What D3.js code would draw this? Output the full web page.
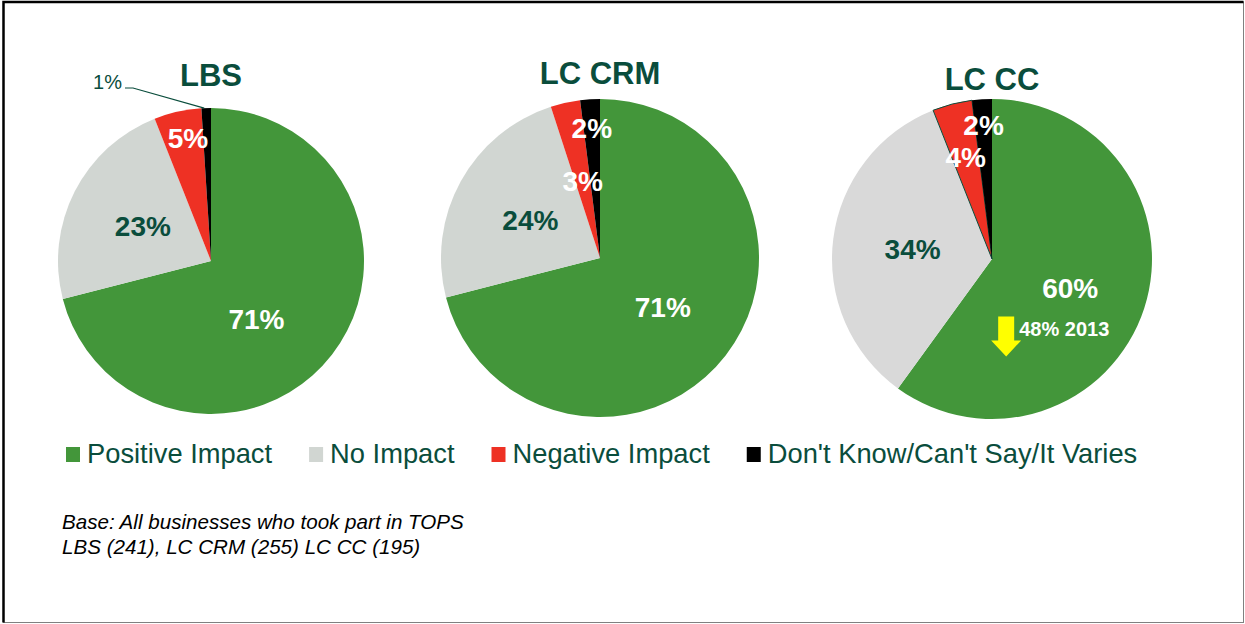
<!DOCTYPE html>
<html>
<head>
<meta charset="utf-8">
<script src="https://cdn.jsdelivr.net/npm/d3@7"></script>
<style>
body { margin: 0; background: #fff; }
svg { display: block; font-family: "Liberation Sans", Arial, sans-serif; }
</style>
</head>
<body>
<svg width="1245" height="624"></svg>
<script>
var categories = ["Positive Impact", "No Impact", "Negative Impact", "Don't Know/Can't Say/It Varies"];
var titles = ["LBS", "LC CRM", "LC CC"];
var lbsValues = [71, 23, 5, 1];
var lcCrmValues = [71, 24, 3, 2];
var lcCcValues = [60, 34, 4, 2];
var note2013 = "48% 2013";
var baseNote = ["Base: All businesses who took part in TOPS", "LBS (241), LC CRM (255) LC CC (195)"];

var svg = d3.select("svg");
var width = +svg.attr("width");
var height = +svg.attr("height");
var darkGreen = "#0a4d3c";

var colors = d3.scaleOrdinal().domain(categories)
	.range(["#43963a", "#d1d6d2", "#ee3124", "#000000"]);

// layout for each pie: centre, radius, label radius fraction (and angle nudge) per slice
var layout = [
	{cx: 211, cy: 261, r: 153, ty: 86, lab: [0.48, 0.5, 0.82, null], nudge: [14, 0, 2, 0], grey: "#d1d6d2"},
	{cx: 600, cy: 258, r: 159, ty: 84, lab: [0.5, 0.5, 0.5, 0.82], nudge: [0, 0, 0, 0], grey: "#d1d6d2"},
	{cx: 992, cy: 259, r: 160, ty: 90, lab: [0.52, 0.5, 0.66, 0.84], nudge: [2, 0, 0, 0], grey: "#d9d9d9"}
];
var series = [lbsValues, lcCrmValues, lcCcValues];

// frame
svg.append("rect").attr("x", 3.5).attr("y", 2).attr("width", 1240).attr("height", 620.5)
	.attr("fill", "none").attr("stroke", "#808080").attr("stroke-width", 1);
svg.append("path").attr("d", "M3.5,622.5V2H1243.5")
	.attr("fill", "none").attr("stroke", "#000").attr("stroke-width", 2.5);

var pie = d3.pie().sort(null).value(function(d) { return d.value; });

series.forEach(function(vals, i) {
	var L = layout[i];
	var data = vals.map(function(v, j) { return {cat: categories[j], value: v}; });
	var arcs = pie(data);
	var arc = d3.arc().innerRadius(0).outerRadius(L.r);
	var g = svg.append("g").attr("transform", "translate(" + L.cx + "," + L.cy + ")");

	g.selectAll("path.slice")
		.data(arcs)
		.enter().append("path")
			.attr("class", "slice")
			.attr("d", arc)
			.attr("fill", function(d, j) { return j == 1 ? L.grey : colors(d.data.cat); })
			.attr("stroke", function(d, j) { return (i == 2 && j == 2) ? darkGreen : "none"; })
			.attr("stroke-width", 1);

	svg.append("text")
		.attr("x", L.cx).attr("y", L.ty)
		.attr("text-anchor", "middle")
		.attr("font-size", 31).attr("font-weight", "bold")
		.attr("fill", darkGreen)
		.text(titles[i]);

	arcs.forEach(function(d, j) {
		var f = L.lab[j];
		if (f == null) return;
		var a = (d.startAngle + d.endAngle) / 2 + L.nudge[j] * Math.PI / 180;
		var c = [Math.sin(a) * L.r * f, -Math.cos(a) * L.r * f];
		g.append("text")
			.attr("x", c[0]).attr("y", c[1]).attr("dy", "0.36em")
			.attr("text-anchor", "middle")
			.attr("font-size", 28).attr("font-weight", "bold")
			.attr("fill", j == 1 ? darkGreen : "#fff")
			.text(d.data.value + "%");
		d.labelPos = c;
	});

	// small slice with outside label and leader line
	if (i == 0) {
		var d = arcs[3];
		var edge = d3.arc().innerRadius(L.r).outerRadius(L.r).centroid(d);
		g.append("path")
			.attr("d", "M" + (edge[0] - 2) + "," + edge[1] + "L-78,-173H-86")
			.attr("fill", "none").attr("stroke", darkGreen).attr("stroke-width", 1.2);
		g.append("text")
			.attr("x", -89).attr("y", -172)
			.attr("text-anchor", "end")
			.attr("font-size", 20)
			.attr("fill", darkGreen)
			.text(d.data.value + "%");
	}

	// 2013 comparison note
	if (i == 2) {
		var p = arcs[0].labelPos;
		var ax = p[0] - 64, ay = p[1] + 29;
		g.append("path")
			.attr("d", "M" + (ax - 8) + "," + ay + "H" + (ax + 8) + "V" + (ay + 24) + "H" + (ax + 15)
				+ "L" + ax + "," + (ay + 40) + "L" + (ax - 15) + "," + (ay + 24) + "H" + (ax - 8) + "Z")
			.attr("fill", "#ffff00");
		g.append("text")
			.attr("x", ax + 13).attr("y", ay + 20)
			.attr("font-size", 20).attr("font-weight", "bold")
			.attr("fill", "#fff")
			.text(note2013);
	}
});

// legend
var legend = svg.append("g").attr("transform", "translate(66,0)");
var lx = 0;
categories.forEach(function(c) {
	var item = legend.append("g").attr("transform", "translate(" + lx + ",0)");
	item.append("rect").attr("x", 0).attr("y", 447).attr("width", 14).attr("height", 15)
		.attr("fill", colors(c));
	var t = item.append("text").attr("x", 21).attr("y", 463)
		.attr("font-size", 27.3).attr("fill", darkGreen).text(c);
	lx += 21 + t.node().getComputedTextLength() + 37;
});

svg.append("g").selectAll("text")
	.data(baseNote)
	.enter().append("text")
		.attr("x", 62)
		.attr("y", function(d, i) { return 529 + i * 25; })
		.attr("font-size", 20.6).attr("font-style", "italic")
		.attr("fill", "#000")
		.text(function(d) { return d; });
</script>
</body>
</html>
